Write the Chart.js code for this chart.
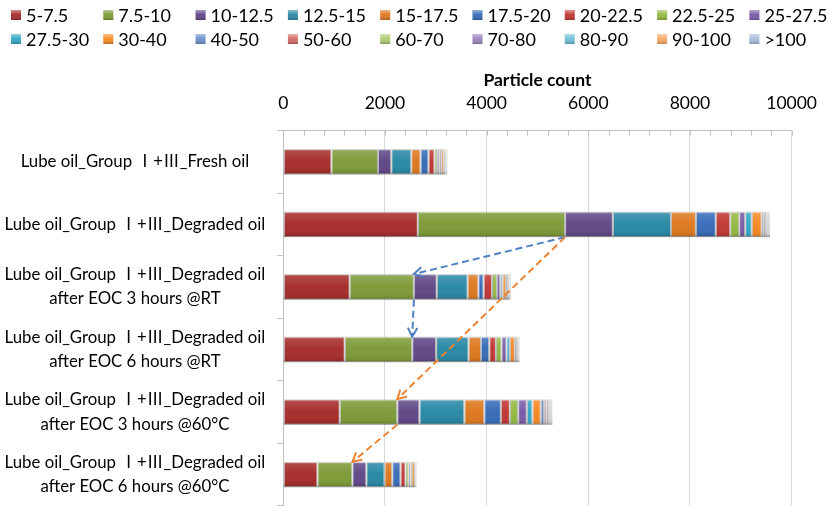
<!DOCTYPE html>
<html>
<head>
<meta charset="utf-8">
<script src="https://cdn.jsdelivr.net/npm/chart.js@4/dist/chart.umd.min.js"></script>
<style>
  html, body { margin: 0; padding: 0; background: #ffffff; overflow: hidden; }
  #wrap { position: relative; width: 834px; height: 530px; }
</style>
</head>
<body>
<div id="wrap"><canvas id="c"></canvas></div>
<script>
// ---- Data ----
const categories = [
  ['Lube oil_Group Ⅰ+Ⅲ_Fresh oil'],
  ['Lube oil_Group Ⅰ+Ⅲ_Degraded oil'],
  ['Lube oil_Group Ⅰ+Ⅲ_Degraded oil', 'after EOC 3 hours @RT'],
  ['Lube oil_Group Ⅰ+Ⅲ_Degraded oil', 'after EOC 6 hours @RT'],
  ['Lube oil_Group Ⅰ+Ⅲ_Degraded oil', 'after EOC 3 hours @60°C'],
  ['Lube oil_Group Ⅰ+Ⅲ_Degraded oil', 'after EOC 6 hours @60°C']
];
const binLabels = ['5-7.5','7.5-10','10-12.5','12.5-15','15-17.5','17.5-20','20-22.5','22.5-25','25-27.5',
                   '27.5-30','30-40','40-50','50-60','60-70','70-80','80-90','90-100','>100'];
// one array per size bin, values for the six samples (top to bottom)
const bin5_7p5    = [948, 2647, 1307, 1209, 1111, 673];
const bin7p5_10   = [915, 2896, 1262, 1327, 1131, 687];
const bin10_12p5  = [262, 941, 451, 470, 438, 274];
const bin12p5_15  = [392, 1143, 607, 640, 882, 359];
const bin15_17p5  = [183, 490, 210, 243, 392, 151];
const bin17p5_20  = [157, 392, 104, 163, 327, 163];
const bin20_22p5  = [118, 282, 164, 131, 176, 98];
const bin22p5_25  = [52, 177, 98, 110, 163, 59];
const bin25_27p5  = [46, 118, 65, 98, 171, 39];
const bin27p5_30  = [33, 130, 46, 66, 111, 25];
const bin30_40    = [51, 196, 65, 98, 163, 60];
const bin40_50    = [20, 39, 25, 25, 66, 12];
const bin50_60    = [15, 27, 18, 18, 45, 9];
const bin60_70    = [12, 31, 15, 15, 35, 8];
const bin70_80    = [10, 20, 12, 12, 28, 7];
const bin80_90    = [9, 20, 10, 10, 22, 5];
const bin90_100   = [8, 14, 10, 10, 18, 3];
const binOver100  = [5, 13, 8, 8, 15, 2];
const xTicks = [0, 2000, 4000, 6000, 8000, 10000];

const seriesValues = [bin5_7p5, bin7p5_10, bin10_12p5, bin12p5_15, bin15_17p5, bin17p5_20, bin20_22p5,
  bin22p5_25, bin25_27p5, bin27p5_30, bin30_40, bin40_50, bin50_60, bin60_70, bin70_80, bin80_90,
  bin90_100, binOver100];

// ---- Styles ----
const colors = ['#A7302D','#7F9C3A','#624A88','#2B8AA6','#DE7A21','#3A6EB8','#C13A36','#95BA45','#7A5DA8',
                '#37A9C9','#F68A27','#6E92CC','#D36E6B','#AFCB72','#9B85BE','#6FC0D8','#F8AA6A','#A9BBDD'];
const FONT = 'Lato, "Noto Sans CJK SC", "Noto Sans", sans-serif';

const datasets = seriesValues.map((vals, i) => ({
  label: binLabels[i],
  data: vals,
  backgroundColor: colors[i],
  borderColor: 'rgba(0,0,0,0.28)',
  borderWidth: 1,
  borderSkipped: false,
  barPercentage: 0.41,
  categoryPercentage: 1.0
}));

// bevel-like shading over each bar segment
const bevel = {
  id: 'bevel',
  afterDatasetsDraw(chart) {
    const ctx = chart.ctx;
    ctx.save();
    chart.data.datasets.forEach((ds, di) => {
      const meta = chart.getDatasetMeta(di);
      meta.data.forEach(el => {
        const p = el.getProps(['x', 'y', 'base', 'height'], true);
        const left = Math.min(p.x, p.base), w = Math.abs(p.x - p.base);
        const top = p.y - p.height / 2, h = p.height;
        if (w < 0.5) return;
        const g = ctx.createLinearGradient(0, top, 0, top + h);
        g.addColorStop(0, 'rgba(255,255,255,0.45)');
        g.addColorStop(0.1, 'rgba(255,255,255,0.12)');
        g.addColorStop(0.5, 'rgba(255,255,255,0)');
        g.addColorStop(0.88, 'rgba(0,0,0,0.06)');
        g.addColorStop(1, 'rgba(0,0,0,0.28)');
        ctx.fillStyle = g;
        ctx.fillRect(left, top, w, h);
      });
    });
    ctx.restore();
  }
};

// dashed arrows linking the end of the 7.5-10 segment between samples
const arrows = {
  id: 'arrows',
  afterDatasetsDraw(chart) {
    const meta = chart.getDatasetMeta(1);
    const pt = (i, side) => {
      const p = meta.data[i].getProps(['x', 'y', 'height'], true);
      return { x: p.x, y: side === 'top' ? p.y - p.height / 2 : p.y + p.height / 2 };
    };
    const ctx = chart.ctx;
    const draw = (a, b, color) => {
      ctx.save();
      ctx.strokeStyle = color;
      ctx.lineWidth = 2;
      ctx.setLineDash([7, 4]);
      ctx.beginPath();
      ctx.moveTo(a.x, a.y);
      ctx.lineTo(b.x, b.y);
      ctx.stroke();
      ctx.setLineDash([]);
      const ang = Math.atan2(b.y - a.y, b.x - a.x);
      const L = 10;
      ctx.beginPath();
      ctx.moveTo(b.x - L * Math.cos(ang - 0.5), b.y - L * Math.sin(ang - 0.5));
      ctx.lineTo(b.x, b.y);
      ctx.lineTo(b.x - L * Math.cos(ang + 0.5), b.y - L * Math.sin(ang + 0.5));
      ctx.stroke();
      ctx.restore();
    };
    const blue = '#4F81C4', orange = '#EE8432';
    draw(pt(1, 'bottom'), pt(2, 'top'), blue);
    draw(pt(2, 'bottom'), pt(3, 'top'), blue);
    draw(pt(1, 'bottom'), pt(4, 'top'), orange);
    draw(pt(4, 'bottom'), pt(5, 'top'), orange);
  }
};

// minor tick marks hanging below the top axis line
const minorTicks = {
  id: 'minorTicks',
  afterDraw(chart) {
    const xs = chart.scales.x, ctx = chart.ctx, top = chart.chartArea.top;
    ctx.save();
    ctx.strokeStyle = '#BFBFBF';
    ctx.lineWidth = 1;
    for (let v = xs.min; v <= xs.max; v += 400) {
      const px = Math.round(xs.getPixelForValue(v)) + 0.5;
      ctx.beginPath();
      ctx.moveTo(px, top);
      ctx.lineTo(px, top + 5);
      ctx.stroke();
    }
    ctx.restore();
  }
};

// legend in two rows of nine
const gridLegend = {
  id: 'gridLegend',
  afterDraw(chart) {
    const ctx = chart.ctx;
    ctx.save();
    ctx.font = '18px ' + FONT;
    ctx.textBaseline = 'middle';
    ctx.textAlign = 'left';
    chart.data.datasets.forEach((ds, i) => {
      const row = Math.floor(i / 9), col = i % 9;
      const x = 11 + col * 92.3, y = 15 + row * 24;
      ctx.fillStyle = ds.backgroundColor;
      ctx.fillRect(x, y - 5, 10, 10);
      const g = ctx.createLinearGradient(0, y - 5, 0, y + 5);
      g.addColorStop(0, 'rgba(255,255,255,0.45)');
      g.addColorStop(0.5, 'rgba(255,255,255,0)');
      g.addColorStop(1, 'rgba(0,0,0,0.25)');
      ctx.fillStyle = g;
      ctx.fillRect(x, y - 5, 10, 10);
      ctx.fillStyle = '#000';
      ctx.fillText(ds.label, x + 15, y + 1);
    });
    ctx.restore();
  }
};

new Chart(document.getElementById('c'), {
  type: 'bar',
  data: { labels: categories, datasets },
  plugins: [bevel, arrows, minorTicks, gridLegend],
  options: {
    indexAxis: 'y',
    responsive: true,
    maintainAspectRatio: false,
    devicePixelRatio: 1,
    animation: false,
    layout: { padding: { top: 50, right: 41, bottom: 6.5, left: 0 } },
    plugins: { legend: { display: false }, tooltip: { enabled: false } },
    scales: {
      x: {
        position: 'top',
        stacked: true,
        min: 0,
        max: 10000,
        afterBuildTicks(scale) { scale.ticks = xTicks.map(v => ({ value: v })); },
        ticks: { font: { family: FONT, size: 17.5 }, color: '#000', padding: 17, maxRotation: 0,
                 callback: v => String(v) },
        grid: { color: '#D9D9D9', drawTicks: false, lineWidth: 1 },
        border: { display: true, color: '#BFBFBF' },
        title: {
          display: true, text: 'Particle count', color: '#000',
          font: { family: FONT, size: 17.5, weight: 'bold' },
          padding: { top: 20, bottom: 0 }
        },
        afterFit(scale) { scale.height = 80.5; }
      },
      y: {
        stacked: true,
        ticks: { crossAlign: 'center', color: '#000', padding: 12,
                 font: { family: FONT, size: 16.8, lineHeight: 1.45 } },
        grid: { offset: true, drawOnChartArea: false, drawTicks: true, tickLength: 6, color: '#BFBFBF' },
        border: { display: true, color: '#BFBFBF' },
        afterFit(scale) { scale.width = 283.3; }
      }
    }
  }
});
</script>
</body>
</html>
